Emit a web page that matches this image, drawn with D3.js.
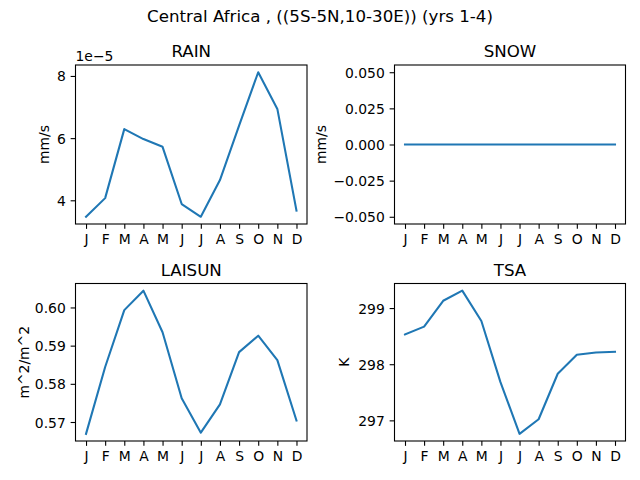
<!DOCTYPE html>
<html>
<head>
<meta charset="utf-8">
<script src="https://cdn.jsdelivr.net/npm/d3@7"></script>
<style>
  body { margin: 0; background: #fff; }
  svg { display: block; font-family: "DejaVu Sans", sans-serif; }
</style>
</head>
<body>
<svg id="chart" width="640" height="480"></svg>
<script>
// ---------------- data ----------------
const months = ["J","F","M","A","M","J","J","A","S","O","N","D"];
const rain   = [3.47e-5, 4.07e-5, 6.29e-5, 5.97e-5, 5.72e-5, 3.88e-5, 3.47e-5, 4.65e-5, 6.40e-5, 8.12e-5, 6.94e-5, 3.67e-5];
const snow   = [0,0,0,0,0,0,0,0,0,0,0,0];
const laisun = [0.5669, 0.5844, 0.5993, 0.6044, 0.5935, 0.5762, 0.5672, 0.5746, 0.5883, 0.5926, 0.5862, 0.5704];
const tsa    = [298.53, 298.67, 299.13, 299.31, 298.77, 297.68, 296.76, 297.02, 297.83, 298.17, 298.21, 298.22];

const rainTicks   = [4e-5, 6e-5, 8e-5];
const rainTickLabels = ["4", "6", "8"];
const snowTicks   = [-0.05, -0.025, 0, 0.025, 0.05];
const snowTickLabels = ["\u22120.050", "\u22120.025", "0.000", "0.025", "0.050"];
const laiTicks    = [0.57, 0.58, 0.59, 0.60];
const laiTickLabels = ["0.57", "0.58", "0.59", "0.60"];
const tsaTicks    = [297, 298, 299];
const tsaTickLabels = ["297", "298", "299"];

const suptitle = "Central Africa , ((5S-5N,10-30E)) (yrs 1-4)";

// ---------------- layout ----------------
const svg = d3.select("#chart");
const color = "#1f77b4";

const panels = [
  { title: "RAIN",   data: rain,   ticks: rainTicks, labels: rainTickLabels, ylabel: "mm/s",    offset: "1e\u22125",
    x0: 75.5, x1: 307, y0: 65, y1: 224, ylabelDx: 32 },
  { title: "SNOW",   data: snow,   ticks: snowTicks, labels: snowTickLabels, ylabel: "mm/s",    offset: null, constDomain: [-0.055, 0.055],
    x0: 394.5, x1: 625.5, y0: 65, y1: 224, ylabelDx: 74 },
  { title: "LAISUN", data: laisun, ticks: laiTicks,  labels: laiTickLabels,  ylabel: "m^2/m^2", offset: null,
    x0: 75.5, x1: 307, y0: 283.5, y1: 441, ylabelDx: 52 },
  { title: "TSA",    data: tsa,    ticks: tsaTicks,  labels: tsaTickLabels,  ylabel: "K",       offset: null,
    x0: 394.5, x1: 625.5, y0: 283.5, y1: 441, ylabelDx: 51 }
];

svg.append("text")
  .attr("x", 320).attr("y", 22)
  .attr("text-anchor", "middle")
  .attr("font-size", "16.67px")
  .text(suptitle);

panels.forEach(p => {
  const g = svg.append("g");
  const n = p.data.length;
  const x = d3.scaleLinear().domain([-0.55, n - 1 + 0.55]).range([p.x0, p.x1]);
  let dom;
  if (p.constDomain) {
    dom = p.constDomain;
  } else {
    const [mn, mx] = d3.extent(p.data);
    const m = (mx - mn) * 0.05;
    dom = [mn - m, mx + m];
  }
  const y = d3.scaleLinear().domain(dom).range([p.y1, p.y0]);

  // x axis
  const xAxis = d3.axisBottom(x)
    .tickValues(d3.range(n))
    .tickFormat(i => months[i])
    .tickSize(4.86)
    .tickPadding(4.86);
  const gx = g.append("g").attr("transform", `translate(0,${p.y1})`).call(xAxis);
  gx.select(".domain").remove();
  gx.selectAll(".tick line").attr("stroke", "#000").attr("stroke-width", 1.1);
  gx.selectAll(".tick text")
    .attr("font-size", "13.9px")
    .attr("font-family", "DejaVu Sans, sans-serif")
    .attr("fill", "#000")
    .attr("dy", "0.76em");

  // y axis
  const yAxis = d3.axisLeft(y)
    .tickValues(p.ticks)
    .tickFormat((d, i) => p.labels[i])
    .tickSize(4.86)
    .tickPadding(4.86);
  const gy = g.append("g").attr("transform", `translate(${p.x0},0)`).call(yAxis);
  gy.select(".domain").remove();
  gy.selectAll(".tick line").attr("stroke", "#000").attr("stroke-width", 1.1);
  gy.selectAll(".tick text")
    .attr("font-size", "13.9px")
    .attr("font-family", "DejaVu Sans, sans-serif")
    .attr("fill", "#000")
    .attr("dy", "0.36em");

  // line
  const line = d3.line().x((d, i) => x(i)).y(d => y(d));
  g.append("path")
    .datum(p.data)
    .attr("fill", "none")
    .attr("stroke", color)
    .attr("stroke-width", 2.08)
    .attr("stroke-linejoin", "round")
    .attr("stroke-linecap", "square")
    .attr("d", line);

  // frame
  g.append("rect")
    .attr("x", p.x0).attr("y", p.y0)
    .attr("width", p.x1 - p.x0).attr("height", p.y1 - p.y0)
    .attr("fill", "none").attr("stroke", "#000").attr("stroke-width", 1.1);

  // title
  g.append("text")
    .attr("x", (p.x0 + p.x1) / 2).attr("y", p.y0 - 8)
    .attr("text-anchor", "middle")
    .attr("font-size", "16.67px")
    .text(p.title);

  // y label
  const lx = p.x0 - p.ylabelDx;
  const ly = (p.y0 + p.y1) / 2;
  g.append("text")
    .attr("transform", `translate(${lx},${ly}) rotate(-90)`)
    .attr("text-anchor", "middle")
    .attr("dy", "0.36em")
    .attr("font-size", "13.9px")
    .text(p.ylabel);

  // offset text
  if (p.offset) {
    g.append("text")
      .attr("x", p.x0).attr("y", p.y0 - 4)
      .attr("font-size", "13.9px")
      .text(p.offset);
  }
});
</script>
</body>
</html>
